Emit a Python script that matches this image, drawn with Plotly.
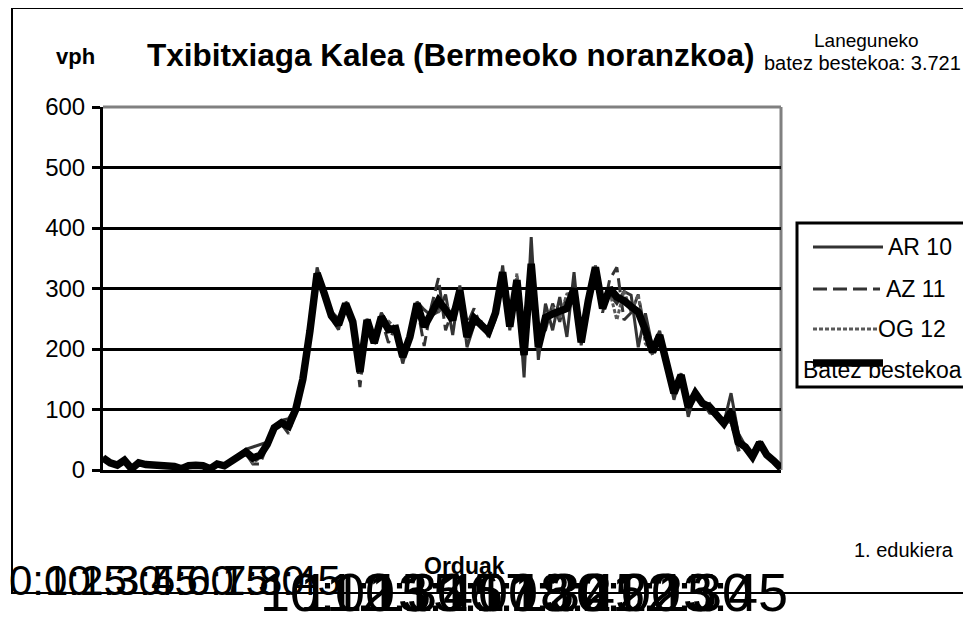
import plotly.graph_objects as go

# ---------------- data ----------------
TIMES = [f"{h}:{m:02d}" for h in range(24) for m in (0, 15, 30, 45)]

AR10 = [22, 10, 6, 18, 2, 14, 8, 9, 6, 8, 5, 1, 8, 8, 6, 2, 11, 6, 15, 24,
        34, 38, 42, 46, 72, 82, 85, 104, 152, 232, 335, 290, 262, 250, 270, 250, 175, 250, 215, 260,
        240, 230, 176, 222, 278, 265, 255, 262, 290, 223, 305, 203, 240, 245, 220, 250, 338, 231, 317, 153,
        385, 182, 275, 231, 286, 220, 327, 206, 275, 338, 275, 290, 275, 295, 289, 203, 259, 203, 230, 175,
        116, 160, 88, 130, 112, 94, 92, 78, 127, 61, 40, 20, 48, 27, 14, 3]
AZ11 = [18, 14, 10, 14, 3, 10, 10, 7, 8, 9, 7, 3, 6, 9, 8, 1, 9, 8, 13, 20,
        28, 10, 10, 40, 68, 76, 60, 98, 148, 228, 318, 295, 250, 232, 280, 240, 137, 245, 205, 250,
        210, 238, 198, 218, 272, 205, 270, 317, 231, 265, 290, 240, 267, 235, 235, 262, 318, 245, 300, 210,
        318, 220, 231, 275, 245, 290, 280, 215, 290, 330, 260, 315, 335, 248, 260, 290, 225, 190, 215, 165,
        135, 155, 115, 125, 108, 110, 88, 76, 80, 33, 36, 24, 42, 23, 16, 4]
OG12 = [20, 12, 8, 16, 1, 12, 9, 8, 7, 7, 6, 2, 7, 7, 7, 3, 10, 7, 14, 22,
        28, 12, 20, 40, 70, 76, 70, 98, 150, 230, 322, 291, 253, 238, 275, 245, 174, 249, 210, 249,
        246, 234, 187, 220, 275, 241, 261, 261, 274, 256, 296, 217, 246, 240, 229, 268, 325, 235, 325, 207,
        320, 207, 250, 268, 252, 291, 293, 212, 275, 337, 266, 295, 248, 297, 261, 290, 209, 192, 224, 170,
        130, 156, 109, 126, 110, 108, 90, 77, 81, 44, 38, 22, 45, 25, 15, 3]
AVG = [20, 12, 8, 16, 2, 12, 9, 8, 7, 8, 6, 2, 7, 8, 7, 2, 10, 7, 14, 22,
       30, 20, 24, 42, 70, 78, 72, 100, 150, 230, 325, 292, 255, 240, 275, 245, 162, 248, 210, 253,
       232, 234, 187, 220, 275, 237, 262, 280, 265, 248, 297, 220, 251, 240, 228, 260, 327, 237, 314, 190,
       341, 203, 252, 258, 261, 267, 300, 211, 280, 335, 267, 300, 286, 280, 270, 261, 231, 195, 223, 170,
       127, 157, 104, 127, 110, 104, 90, 77, 96, 46, 38, 22, 45, 25, 15, 3]

SERIES_NAMES = ["AR 10", "AZ 11", "OG 12", "Batez bestekoa"]
TICK_LABELS = ["0:00", "1:15", "2:30", "3:45", "5:00", "6:15", "7:30", "8:45",
               "10:00", "11:15", "12:30", "13:45", "15:00", "16:15", "17:30", "18:45",
               "20:00", "21:15", "22:30", "23:45"]
Y_TICKS = [0, 100, 200, 300, 400, 500, 600]
TITLE = "Txibitxiaga Kalea (Bermeoko noranzkoa)"
Y_TITLE = "vph"
X_TITLE = "Orduak"
NOTE_TOP = ["Laneguneko", "batez bestekoa: 3.721"]
NOTE_BOTTOM = "1. edukiera"

# ---------------- layout geometry (screen pixels) ----------------
W, H = 971, 624
PAGE_OFF = 8                     # default body margin of the html page
L, R, T, B = 103, 781, 107, 470  # plot area on screen
FONT = "Liberation Sans, Arial, sans-serif"


def px(x):
    return (x - L) / (R - L)


def py(y):
    return (B - y) / (B - T)


styles = [
    dict(color="#333333", width=3),
    dict(color="#333333", width=3, dash="14px,6px"),
    dict(color="#5a5a5a", width=3, dash="4px,2px"),
    dict(color="#000000", width=7.5),
]

fig = go.Figure()
for name, vals, st in zip(SERIES_NAMES, [AR10, AZ11, OG12, AVG], styles):
    fig.add_trace(go.Scatter(x=TIMES, y=vals, mode="lines", name=name, line=st,
                             showlegend=False, hoverinfo="x+y+name"))


def txt(s, x, y, size, bold=False, xanchor="center", xref="paper", yref="paper", xshift=0):
    return dict(text=f"<b>{s}</b>" if bold else s, x=x, y=y, xref=xref, yref=yref,
                xanchor=xanchor, yanchor="middle", showarrow=False, xshift=xshift,
                font=dict(size=size, color="black", family=FONT))


annotations = [
    txt(Y_TITLE, px(75), py(57), 22, bold=True),
    txt(TITLE, px(450), py(55), 31.5, bold=True),
    txt(NOTE_TOP[0], px(866), py(41), 19),
    txt(NOTE_TOP[1], px(862), py(63), 20),
    txt(X_TITLE, px(464), py(566), 23, bold=True),
    txt(NOTE_BOTTOM, px(904), py(550), 20),
]

# huge overlapping time labels along the bottom
for lab in TICK_LABELS:
    if len(lab) == 4:
        annotations.append(txt(lab, lab, py(580), 42, xanchor="right", xref="x", xshift=-10))
    else:
        annotations.append(txt(lab, lab, py(592), 54, xanchor="right", xref="x", xshift=9))

# custom legend
leg_items = [
    (SERIES_NAMES[0], 247, 886, styles[0], 883),
    (SERIES_NAMES[1], 289, 884, styles[1], 880),
    (SERIES_NAMES[2], 329, 876, styles[2], 877),
    (SERIES_NAMES[3], 370, 801, styles[3], 883),
]
shapes = [
    # outer chart border
    dict(type="rect", xref="paper", yref="paper", x0=px(12), x1=px(995), y0=py(593), y1=py(8),
         line=dict(color="black", width=2), fillcolor="rgba(0,0,0,0)", layer="below"),
    # grey plot frame top and right
    dict(type="line", xref="paper", yref="paper", x0=0, x1=1, y0=1, y1=1,
         line=dict(color="#808080", width=3), layer="between"),
    dict(type="line", xref="paper", yref="paper", x0=1, x1=1, y0=0, y1=1,
         line=dict(color="#808080", width=3), layer="between"),
    # legend box
    dict(type="rect", xref="paper", yref="paper", x0=px(797), x1=px(965), y0=py(387), y1=py(223),
         line=dict(color="black", width=3), fillcolor="white", layer="above"),
]
for i, (name, yc, tx, st, xend) in enumerate(leg_items):
    ly = yc if i < 3 else 363
    shapes.append(dict(type="line", xref="paper", yref="paper", x0=px(813), x1=px(xend),
                       y0=py(ly), y1=py(ly), line=st, layer="above"))
    annotations.append(txt(name, px(tx), py(yc), 23, xanchor="left"))

fig.update_layout(
    width=W, height=H,
    margin=dict(l=L - PAGE_OFF, r=W - R + PAGE_OFF, t=T - PAGE_OFF, b=H - B + PAGE_OFF,
                autoexpand=False),
    paper_bgcolor="white", plot_bgcolor="white",
    font=dict(family=FONT, color="black"),
    shapes=shapes, annotations=annotations,
    xaxis=dict(type="category", range=[0, 95], showgrid=False, zeroline=False,
               showline=True, linecolor="black", linewidth=3, ticks="",
               showticklabels=False, fixedrange=True),
    yaxis=dict(range=[0, 600], tickvals=Y_TICKS, showgrid=True, gridcolor="black", gridwidth=3,
               zeroline=False, showline=True, linecolor="black", linewidth=3,
               ticks="outside", ticklen=8, tickwidth=3, tickcolor="black",
               tickfont=dict(size=24, color="black", family=FONT), ticklabelstandoff=2,
               fixedrange=True),
    showlegend=False,
)

fig.write_html("out.html")
